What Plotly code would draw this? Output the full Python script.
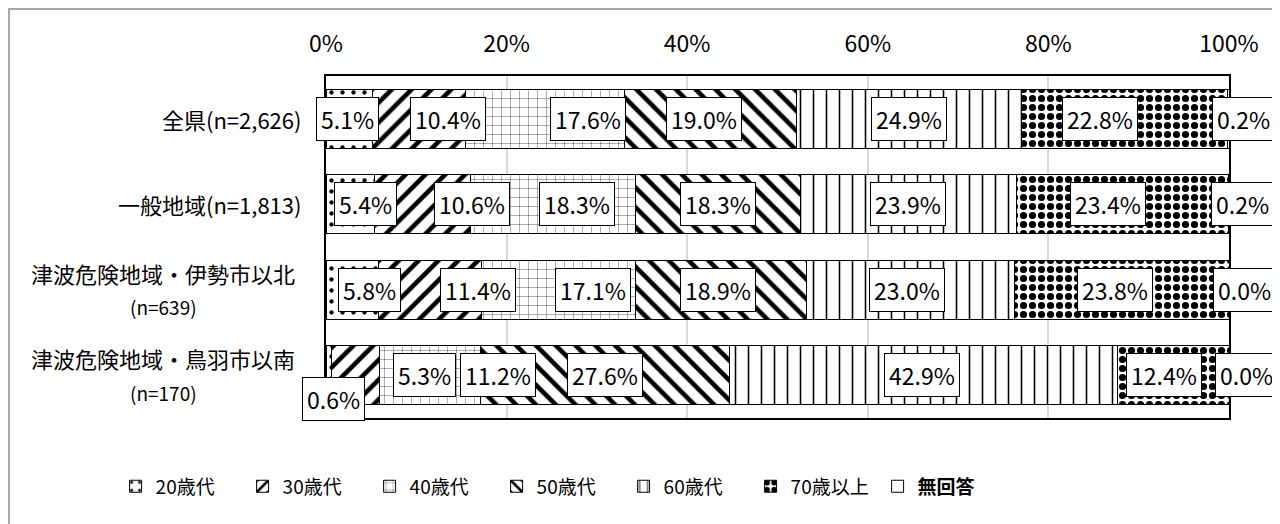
import plotly.graph_objects as go

# Age distribution of respondents by area (%)
categories = ["全県(n=2,626)", "一般地域(n=1,813)",
              "津波危険地域・伊勢市以北<br>(n=639)", "津波危険地域・鳥羽市以南<br>(n=170)"]
age_groups = ["20歳代", "30歳代", "40歳代", "50歳代", "60歳代", "70歳以上", "<b>無回答</b>"]

age_20s = [5.1, 5.4, 5.8, 0.6]
age_30s = [10.4, 10.6, 11.4, 5.3]
age_40s = [17.6, 18.3, 17.1, 11.2]
age_50s = [19.0, 18.3, 18.9, 27.6]
age_60s = [24.9, 23.9, 23.0, 42.9]
age_70plus = [22.8, 23.4, 23.8, 12.4]
no_answer = [0.2, 0.2, 0.0, 0.0]

series = [age_20s, age_30s, age_40s, age_50s, age_60s, age_70plus, no_answer]

# label nudges (in % units) so the boxes sit where the original put them
nudges = [
    [-0.15, 3.2, 4.7, -0.7, 0.05, -2.7, 1.7],
    [1.7, 5.5, 2.65, -0.05, -0.05, -1.6, 1.5],
    [1.9, 5.3, 3.85, -0.35, -0.4, -0.7, 1.7],
    [0.5, 7.65, 7.5, 0.0, -0.15, -1.0, 1.9],
]

# black & white hatch styles per age group
patterns = [
    dict(shape=".", size=11, solidity=0.12),
    dict(shape="/", size=14, solidity=0.33),
    dict(shape="+", size=9, solidity=0.07),
    dict(shape="\\", size=14, solidity=0.33),
    dict(shape="|", size=13, solidity=0.12),
    dict(shape=".", size=9, solidity=0.5),
    dict(shape="", size=8, solidity=0.2),
]

FONT = "Noto Sans CJK JP"

fig = go.Figure()
for name, vals, pat in zip(age_groups, series, patterns):
    fig.add_trace(go.Bar(
        y=categories,
        x=vals,
        orientation="h",
        name=name,
        marker=dict(color="white", line=dict(color="black", width=1),
                    pattern=dict(fillmode="overlay", fgcolor="black",
                                 fgopacity=1, **pat)),
        hovertemplate="%{y}<br>" + name + ": %{x:.1f}%<extra></extra>",
    ))

annotations = []
# value labels in white boxes (paper x so the ones past 100% still show)
for r, cat in enumerate(categories):
    left = 0.0
    for s, vals in enumerate(series):
        v = vals[r]
        xc = left + v / 2 + nudges[r][s]
        left += v
        yshift = -24 if (r == 3 and s == 0) else 0
        annotations.append(dict(
            x=xc / 100, y=cat, xref="paper", yref="y", text=f"{v:.1f}%",
            xanchor="center", yanchor="middle", showarrow=False, yshift=yshift,
            font=dict(family=FONT, size=23, color="black"),
            bgcolor="white", bordercolor="black", borderwidth=1, borderpad=4,
        ))

# category labels (two-line ones centred under themselves)
for cat in categories:
    lines = cat.split("<br>")
    if len(lines) == 1:
        annotations.append(dict(
            x=-0.026, y=cat, xref="paper", yref="y", text=lines[0],
            xanchor="right", showarrow=False,
            font=dict(family=FONT, size=22, color="black")))
    else:
        for i, ln in enumerate(lines):
            annotations.append(dict(
                x=-0.18, y=cat, xref="paper", yref="y", text=ln,
                xanchor="center", showarrow=False, yshift=17 - 34 * i,
                font=dict(family=FONT, size=22 if i == 0 else 19, color="black")))

# page body has an 8px margin, so the figure is 8px smaller and offset
fig.update_layout(
    width=1272, height=516,
    margin=dict(l=318, r=51, t=68, b=106),
    paper_bgcolor="white", plot_bgcolor="white",
    barmode="stack", bargap=0.31,
    font=dict(family=FONT, color="black"),
    annotations=annotations,
    showlegend=True,
    legend=dict(orientation="h", x=-0.233, xanchor="left", y=-0.2, yanchor="middle",
                font=dict(family=FONT, size=19), traceorder="normal",
                entrywidth=82, itemclick=False),
    shapes=[dict(type="rect", xref="paper", yref="paper",
                 x0=-0.351, x1=1.1, y0=-0.4, y1=1.196,
                 line=dict(color="#a6a6a6", width=2), layer="below")],
)
fig.update_xaxes(range=[0, 100], dtick=20, ticksuffix="%", side="top",
                 showgrid=True, gridcolor="#d9d9d9", gridwidth=1.5,
                 showline=True, mirror=True, linecolor="black", linewidth=1.5,
                 zeroline=False, ticklabelstandoff=13,
                 tickfont=dict(family=FONT, size=23))
fig.update_yaxes(autorange="reversed", showticklabels=False,
                 showline=True, mirror=True, linecolor="black", linewidth=1.5)

fig.write_html("out.html")
